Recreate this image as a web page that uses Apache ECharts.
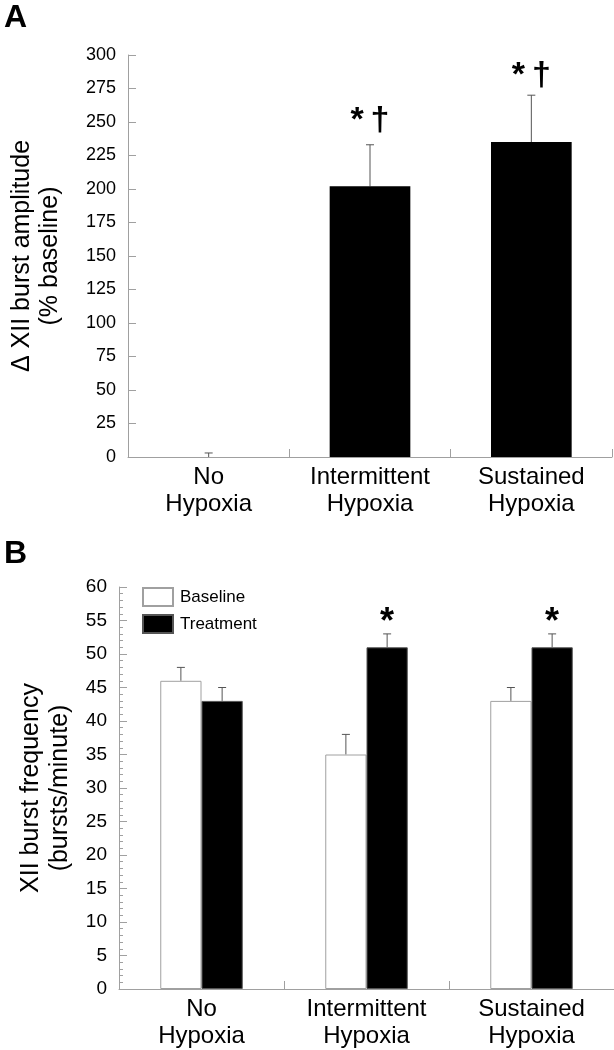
<!DOCTYPE html>
<html>
<head>
<meta charset="utf-8">
<script src="https://cdn.jsdelivr.net/npm/echarts@6/dist/echarts.min.js"></script>
<style>
html,body{margin:0;padding:0;background:#fff;}
#chart{width:614px;height:1050px;}
</style>
</head>
<body>
<div id="chart"></div>
<script>
// ---- Data ----
const categories = ['No\nHypoxia', 'Intermittent\nHypoxia', 'Sustained\nHypoxia'];
// Panel A: change in XII burst amplitude (% baseline)
const ampMean = [0, 202, 235];
const ampErr = [3, 31, 35];
const ampMarks = ['', '*\u2009\u2020', '*\u2009\u2020'];
// Panel B: XII burst frequency (bursts/minute)
const baselineMean = [46, 35, 43];
const baselineErr = [2, 3, 2];
const treatmentMean = [43, 51, 51];
const treatmentErr = [2, 2, 2];
const treatmentMarks = ['', '*', '*'];

const FONT = 'Arial, "Liberation Sans", sans-serif';
const AXIS_COLOR = '#a0a0a0';
const ERR_COLOR = '#555';

function errorSeries(name, xIdx, yIdx, means, errs, offsetFrac) {
  return {
    type: 'custom', name: name, xAxisIndex: xIdx, yAxisIndex: yIdx, z: 1,
    silent: true,
    data: means.map((m, i) => [i, m, m + errs[i]]),
    renderItem: function (params, api) {
      const band = api.size([1, 0])[0];
      const base = api.coord([api.value(0), api.value(1)]);
      const top = api.coord([api.value(0), api.value(2)]);
      const x = base[0] + band * offsetFrac;
      const cap = 4;
      return {
        type: 'group',
        children: [
          { type: 'line', shape: { x1: x, y1: base[1], x2: x, y2: top[1] },
            style: { stroke: ERR_COLOR, lineWidth: 1 } },
          { type: 'line', shape: { x1: x - cap, y1: top[1], x2: x + cap, y2: top[1] },
            style: { stroke: ERR_COLOR, lineWidth: 1 } }
        ]
      };
    }
  };
}

const chart = echarts.init(document.getElementById('chart'), null, { renderer: 'canvas' });

const catAxisCommon = {
  type: 'category',
  data: categories,
  axisLine: { lineStyle: { color: AXIS_COLOR, width: 1 } },
  axisTick: { show: true, inside: true, length: 8, lineStyle: { color: AXIS_COLOR } },
  axisLabel: { color: '#000', fontSize: 24, fontFamily: FONT, lineHeight: 27, margin: 7 }
};

const option = {
  backgroundColor: '#fff',
  animation: false,
  textStyle: { fontFamily: FONT },
  title: [
    { text: 'A', left: -1, top: -3, textStyle: { fontSize: 32, fontWeight: 'bold', color: '#000', fontFamily: FONT } },
    { text: 'B', left: -1, top: 533, textStyle: { fontSize: 32, fontWeight: 'bold', color: '#000', fontFamily: FONT } }
  ],
  legend: {
    data: ['Baseline', 'Treatment'],
    orient: 'vertical',
    left: 142, top: 587, padding: 0,
    itemWidth: 30, itemHeight: 18, itemGap: 7,
    icon: 'rect',
    textStyle: { fontSize: 17, color: '#000', fontFamily: FONT, padding: [0, 0, 0, 2] }
  },
  grid: [
    { left: 124, right: 2, top: 55, bottom: 593 },
    { left: 119, right: 0, top: 587, bottom: 59 }
  ],
  xAxis: [
    Object.assign({}, catAxisCommon, { gridIndex: 0 }),
    Object.assign({}, catAxisCommon, { gridIndex: 1 })
  ],
  yAxis: [
    {
      type: 'value', gridIndex: 0, min: 0, max: 300, interval: 25,
      name: '\u0394 XII burst amplitude\n(% baseline)',
      nameLocation: 'middle', nameGap: 64,
      nameTextStyle: { fontSize: 25, color: '#000', fontFamily: FONT, lineHeight: 28 },
      axisLine: { show: true, lineStyle: { color: AXIS_COLOR } },
      axisTick: { show: true, inside: true, length: 8, lineStyle: { color: AXIS_COLOR } },
      axisLabel: { color: '#000', fontSize: 18, fontFamily: FONT, margin: 12 },
      splitLine: { show: false }
    },
    {
      type: 'value', gridIndex: 1, min: 0, max: 60, interval: 5,
      name: 'XII burst frequency\n(bursts/minute)',
      nameLocation: 'middle', nameGap: 43,
      nameTextStyle: { fontSize: 25, color: '#000', fontFamily: FONT, lineHeight: 29 },
      axisLine: { show: true, lineStyle: { color: AXIS_COLOR } },
      axisTick: { show: true, inside: true, length: 8, lineStyle: { color: AXIS_COLOR } },
      minorTick: { show: true, splitNumber: 5, length: 4, lineStyle: { color: AXIS_COLOR } },
      axisLabel: { color: '#000', fontSize: 19, fontFamily: FONT, margin: 12 },
      splitLine: { show: false }
    }
  ],
  series: [
    {
      type: 'bar', name: 'Amplitude', xAxisIndex: 0, yAxisIndex: 0, z: 2,
      data: ampMean, barWidth: '50%',
      itemStyle: { color: '#000' },
      label: {
        show: true, position: 'top', distance: 49,
        formatter: p => ampMarks[p.dataIndex],
        fontSize: 34, fontWeight: 'bold', color: '#000', fontFamily: FONT
      }
    },
    errorSeries('ampErr', 0, 0, ampMean, ampErr, 0),
    {
      type: 'bar', name: 'Baseline', xAxisIndex: 1, yAxisIndex: 1, z: 2,
      data: baselineMean, barWidth: '25%', barGap: '0%',
      itemStyle: { color: '#fff', borderColor: '#a0a0a0', borderWidth: 1 }
    },
    {
      type: 'bar', name: 'Treatment', xAxisIndex: 1, yAxisIndex: 1, z: 2,
      data: treatmentMean, barWidth: '25%', barGap: '0%',
      itemStyle: { color: '#000', borderColor: '#555', borderWidth: 1 },
      label: {
        show: true, position: 'top', distance: 6,
        formatter: p => treatmentMarks[p.dataIndex],
        fontSize: 36, fontWeight: 'bold', color: '#000', fontFamily: FONT
      }
    },
    errorSeries('baseErr', 1, 1, baselineMean, baselineErr, -0.125),
    errorSeries('treatErr', 1, 1, treatmentMean, treatmentErr, 0.125)
  ]
};

chart.setOption(option);
</script>
</body>
</html>
